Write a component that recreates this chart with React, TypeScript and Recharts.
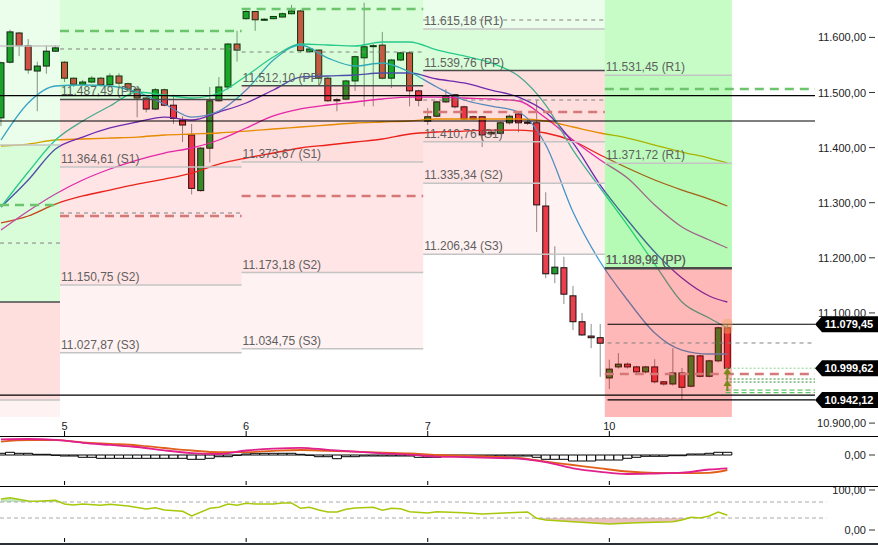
import React from 'react'
import {
  ComposedChart, Bar, Line, Area, XAxis, YAxis,
  ReferenceArea, ReferenceLine, ReferenceDot,
} from 'recharts'

const FONT = '"Liberation Sans", Arial, sans-serif'

// candle index axis: 20 half-hour bars per session
const X_DOMAIN: [number, number] = [-0.11, 89.65]
const PRICE_DOMAIN: [number, number] = [10876.6, 11667.9]
const TOP = 11667.9
const ZONE_BOTTOM = 10911

const DAY_TICKS = [7, 27, 47, 67]
const DAY_LABELS = ['5', '6', '7', '10']
// 11.000,00 sits under the last-price tag in the original, so it is left out
const PRICE_TICKS = [10900, 11100, 11200, 11300, 11400, 11500, 11600]

const OPEN = [
  11454, 11555, 11608, 11585, 11539, 11548, 11575,
  11555, 11526, 11515, 11519, 11526, 11514, 11530, 11516, 11506, 11490,
  11470, 11505, 11477, 11450, 11423, 11322, 11399, 11485, 11510, 11588,
  11634, 11647, 11632, 11634, 11637, 11643, 11648, 11574, 11577, 11526,
  11485, 11488, 11521, 11563, 11584, 11586, 11526, 11559, 11572, 11503,
  11448, 11457, 11483, 11496, 11474, 11456, 11456, 11425, 11426, 11445,
  11461, 11445, 11445, 11294, 11171, 11182, 11131, 11084, 11058, 11055,
  10982, 11002, 11007, 11002, 10993, 11002, 10975, 10971, 10991, 10967,
  11022, 10985, 11013, 11073,
]
const HIGH = [
  11556, 11614, 11610, 11597, 11556, 11586, 11586,
  11557, 11527, 11523, 11530, 11528, 11535, 11535, 11518, 11512, 11492,
  11508, 11507, 11496, 11457, 11443, 11401, 11510, 11528, 11590, 11612,
  11652, 11648, 11635, 11639, 11645, 11659, 11650, 11581, 11578, 11528,
  11490, 11523, 11567, 11663, 11588, 11610, 11561, 11574, 11575, 11505,
  11472, 11485, 11506, 11497, 11476, 11458, 11457, 11431, 11447, 11460,
  11463, 11454, 11486, 11319, 11221, 11202, 11149, 11100, 11080, 11080,
  11015, 11027, 11010, 11004, 11004, 11016, 10976, 11036, 11000, 11024,
  11024, 11015, 11075, 11079.45,
]
const LOW = [
  11439, 11553, 11566, 11534, 11466, 11534, 11574,
  11519, 11510, 11513, 11517, 11511, 11512, 11512, 11501, 11455, 11464,
  11468, 11475, 11443, 11410, 11315, 11320, 11373, 11483, 11505, 11556,
  11632, 11612, 11630, 11633, 11636, 11642, 11573, 11572, 11514, 11483,
  11466, 11486, 11503, 11475, 11475, 11524, 11508, 11557, 11475, 11475,
  11441, 11455, 11481, 11471, 11450, 11450, 11401, 11422, 11424, 11442,
  11428, 11441, 11247, 11163, 11154, 11116, 11069, 11058, 11036, 10984,
  10962, 10999, 10999, 10990, 10990, 10972, 10968, 10968, 10942.12, 10965,
  10983, 10983, 11010, 10964,
]
const CLOSE = [
  11554, 11610, 11585, 11541, 11548, 11575, 11581,
  11526, 11515, 11519, 11526, 11514, 11530, 11517, 11506, 11490, 11470,
  11505, 11477, 11453, 11441, 11326, 11399, 11485, 11510, 11588, 11577,
  11647, 11632, 11633, 11638, 11643, 11648, 11576, 11579, 11526, 11485,
  11487, 11521, 11565, 11583, 11585, 11526, 11559, 11572, 11503, 11486,
  11456, 11483, 11494, 11474, 11452, 11452, 11423, 11428, 11445, 11457,
  11445, 11446, 11296, 11171, 11183, 11134, 11084, 11060, 11055, 11045,
  10998, 11007, 11002, 10993, 11002, 10975, 10971, 10991, 10965, 11022,
  10985, 11013, 11073, 10999.62,
]

// moving averages, read every third candle
const MA_X = [0, 3, 6, 9, 12, 15, 18, 21, 24, 27, 30, 33, 36, 39, 42, 45, 48, 51, 54, 57, 60, 63, 66, 69, 72, 75, 78, 80]
const MA_FAST = [11413.8, 11481, 11511.8, 11513.6, 11511.8, 11500.9, 11479.1, 11455.5, 11466.4, 11504.5, 11559, 11586.2, 11562.6, 11548.1, 11553.6, 11537.2, 11510, 11486.4, 11475.5, 11464.6, 11404.7, 11283.1, 11192.4, 11123.4, 11063.5, 11032.6, 11025.4, 11025.4]
const MA_TEAL = [11292.2, 11355.7, 11413.8, 11448.3, 11475.5, 11500.9, 11495.5, 11490, 11499.1, 11530, 11564.4, 11588, 11586.2, 11584.4, 11591.7, 11591.7, 11577.2, 11566.3, 11553.6, 11530, 11477.3, 11395.6, 11326.7, 11259.5, 11188.7, 11119.8, 11090.7, 11072.6]
const MA_PURPLE = [11292.2, 11341.2, 11397.5, 11419.2, 11435.6, 11446.5, 11455.5, 11450.1, 11464.6, 11481, 11504.5, 11528.1, 11530, 11531.8, 11535.4, 11535.4, 11524.5, 11517.3, 11504.5, 11491.8, 11464.6, 11408.4, 11332.1, 11268.6, 11210.5, 11163.3, 11130.7, 11119.8]
const MA_MAGENTA = [11250.4, 11284.9, 11315.8, 11341.2, 11361.2, 11377.5, 11390.2, 11399.3, 11413.8, 11435.6, 11457.4, 11470.1, 11477.3, 11482.8, 11488.2, 11491.8, 11491.8, 11490, 11488.2, 11484.6, 11453.7, 11413.8, 11377.5, 11344.8, 11295.8, 11255.9, 11232.3, 11217.8]
const MA_ORANGE = [11402.9, 11406.5, 11413.8, 11415.6, 11417.4, 11419.2, 11422.9, 11424.7, 11426.5, 11430.1, 11433.8, 11437.4, 11441, 11444.7, 11446.5, 11448.3, 11451.9, 11451.9, 11451.9, 11451.9, 11448.3, 11437.4, 11426.5, 11417.4, 11404.7, 11392, 11381.1, 11372.1]
const MA_RED = [11263.2, 11275.9, 11297.6, 11312.2, 11323, 11333.9, 11343, 11353.9, 11370.2, 11381.1, 11390.2, 11399.3, 11404.7, 11410.2, 11415.6, 11424.7, 11428.3, 11430.1, 11431.9, 11431.9, 11426.5, 11412, 11386.6, 11363, 11341.2, 11323, 11306.7, 11294]

// sessions (candle index bounds)
const SEG_START = [-0.11, 6.5, 26.5, 46.5, 66.5]
const SEG_END = [6.5, 26.5, 46.5, 66.5, 80.5]

// pivot levels per session
const PIVOTS: [number, number, string][] = [
  [0, 11584.4, 'R2'], [0, 11404.7, 'R1'], [0, 11119.8, 'PP'], [0, 10941.9, 'S1'],
  [1, 11487.49, 'PP'], [1, 11364.61, 'S1'], [1, 11150.75, 'S2'], [1, 11027.87, 'S3'],
  [2, 11512.10, 'PP'], [2, 11373.67, 'S1'], [2, 11173.18, 'S2'], [2, 11034.75, 'S3'],
  [3, 11615.18, 'R1'], [3, 11539.76, 'PP'], [3, 11410.76, 'S1'], [3, 11335.34, 'S2'], [3, 11206.34, 'S3'],
  [4, 11531.45, 'R1'], [4, 11371.72, 'R1'], [4, 11180.99, 'PP'],
]
const ZONES: [number, number, number, string][] = [
  [0, ZONE_BOTTOM, 10941.9, 'p3'], [0, 10941.9, 11119.8, 'p1'], [0, 11119.8, 11404.7, 'g1'], [0, 11404.7, TOP, 'g2'],
  [1, 11487.49, TOP, 'g1'], [1, 11364.61, 11487.49, 'p1'], [1, 11150.75, 11364.61, 'p2'], [1, 11027.87, 11150.75, 'p3'],
  [2, 11512.10, TOP, 'g1'], [2, 11373.67, 11512.10, 'p1'], [2, 11173.18, 11373.67, 'p2'], [2, 11034.75, 11173.18, 'p3'],
  [3, 11615.18, TOP, 'g2'], [3, 11539.76, 11615.18, 'g1'], [3, 11410.76, 11539.76, 'p1'], [3, 11335.34, 11410.76, 'p2'], [3, 11206.34, 11335.34, 'p3'],
  [4, 11531.45, TOP, 'G3'], [4, 11371.72, 11531.45, 'G2'], [4, 11180.99, 11371.72, 'G1'], [4, ZONE_BOTTOM, 11180.99, 'P1'],
]
const BAND: Record<string, [string, number]> = {
  g1: ['#00f000', 0.15], g2: ['#00f000', 0.08],
  p1: ['#ff0000', 0.13], p2: ['#ff0000', 0.1], p3: ['#ff0000', 0.05],
  G1: ['#00f000', 0.29], G2: ['#00f000', 0.26], G3: ['#00f000', 0.22],
  P1: ['#ff0000', 0.28],
}

// previous-session markers: [from, to, price, kind]
const MARKS: [number, number, number, string][] = [
  [-0.11, 6.5, 11295.8, 'g'], [-0.11, 6.5, 11226.8, 'k'],
  [6.5, 26.5, 11611.6, 'g'], [6.5, 26.5, 11579, 'k'], [6.5, 26.5, 11281.3, 'k'], [6.5, 26.5, 11275.9, 'r'],
  [26.5, 46.5, 11651.6, 'g'], [26.5, 46.5, 11573.5, 'k'], [26.5, 46.5, 11312.2, 'r'],
  [46.5, 66.5, 11631.6, 'k'], [46.5, 66.5, 11486.4, 'k'], [46.5, 66.5, 11464.6, 'r'],
  [66.5, 89.65, 11506.4, 'g'], [66.8, 89.65, 11045.4, 'k'], [66.5, 89.65, 10989.1, 'r'],
  [79.8, 89.65, 10980, 'd'], [79.8, 89.65, 10974.6, 'd'], [79.8, 89.65, 10960, 'e'], [79.8, 89.65, 10955.2, 'e'],
]
const MARK_STYLE: Record<string, [string, number, string]> = {
  g: ['#6cc46c', 2.5, '9 6'],
  r: ['#d67878', 2.5, '9 6'],
  k: ['#808080', 1, '4 4'],
  d: ['#2f8a2f', 1, '2 2'],
  e: ['#3cb43c', 1, '5 3'],
}
const H_LINES = [11494.2, 11448.3, 10950.9]
const TAGS = [11079.45, 10942.12]
const LAST_PRICE = 10999.62
const SIGNALS = [10990.9, 10969.1]

// MACD
const HIST = [
  1.7, 2.7, 1.7, 1.7, 0.7, 0.7, -0.3, -1, -1, -2.3, -2.3,
  -3.3, -3.3, -3.3, -3.3, -3.3, -3.3, -3.3, -3.3, -3.3, -3.3,
  -4.3, -4.3, -3.3, -1.7, -1.7, -0.3,
  1, 1.7, 1.7, 1.7, 1.7, 1.7, 0.7, -0.3,
  -1.7, -1.7, -3.7, -1.7, -1.7,
  -1, -1, -1, -1, -1, -1, -2.3, -2.3, -2.3,
  -1, -1, -1, -1, -1, -1, -1, -1, -1, -1,
  -2.3, -4.3, -4.3, -4.3, -6, -6, -6, -5, -5, -5,
  -3.3, -2.3, -1.3, -1.3, -1.3, -0.7, -0.7, 1, 1, 1.7, 2.7, 2.7,
]
const MACD_LINE = [15.7, 16, 15.2, 12.2, 10.1, 8, 4.6, 1.9, 1, 4.5, 6.4, 7.2, 5.2, 3.4, 1.7, 0.4, -1.6, -2.1, -2.8, -3.6, -7.2, -13.3, -16.8, -19, -18.5, -17.7, -14.5, -13.3]
const MACD_SIGNAL = [13.3, 14.8, 14.8, 12.7, 11.2, 9.7, 7, 4.5, 2.8, 2.8, 4.2, 5, 4.2, 3.3, 2.4, 1.6, 0, -0.7, -1.7, -3, -6.6, -10, -13.4, -16.5, -18, -18.2, -17.8, -15]

// RSI
const RSI_X = [0, 1, 3, 4, 6, 7, 8, 9, 11, 12, 14, 16, 17, 18, 20, 21, 23, 24, 25, 26, 27, 28, 30, 31, 32, 33, 34, 35, 36, 37, 38, 39, 41, 42, 43, 44, 45, 47, 48, 51, 53, 56, 58, 59, 60, 63, 67, 70, 72, 74, 75, 76, 77, 78, 79, 80]
const RSI_V = [77.5, 80.8, 72.5, 71.8, 74.3, 65, 62.5, 65, 61.8, 64.3, 60, 52.5, 55.8, 50, 46.8, 35, 54.3, 56.8, 65, 61.8, 66.8, 65, 65, 67.5, 67.5, 54.3, 56.8, 50, 45, 45, 51.8, 55, 56.8, 49.3, 54.3, 53.3, 45.8, 42.5, 45.8, 43.3, 40, 43.3, 45, 29.3, 25, 20.8, 15, 18.3, 19.3, 20.8, 25, 31.8, 30, 35, 45, 36.8]

const candles = OPEN.map((o, i) => ({ i, o, h: HIGH[i], l: LOW[i], c: CLOSE[i], range: [LOW[i], HIGH[i]] }))
const maRows = MA_X.map((i, k) => ({
  i, fast: MA_FAST[k], teal: MA_TEAL[k], purple: MA_PURPLE[k],
  magenta: MA_MAGENTA[k], orange: MA_ORANGE[k], red: MA_RED[k],
}))
const histRows = HIST.map((h, i) => ({ i, h }))
const macdRows = MA_X.map((i, k) => ({ i, m: MACD_LINE[k], s: MACD_SIGNAL[k] }))
const rsiRows = RSI_X.map((i, k) => ({
  i, v: RSI_V[k],
  lo: [Math.min(RSI_V[k], 30), 30],
  hi: [70, Math.max(RSI_V[k], 70)],
}))

const MA_SERIES = [
  { key: 'red', color: '#e8261e' },
  { key: 'orange', color: '#e2a000' },
  { key: 'magenta', color: '#e02cc0' },
  { key: 'purple', color: '#5a32c8' },
  { key: 'teal', color: '#2ec4a4' },
  { key: 'fast', color: '#3c9fd6' },
]

function fmt(v: number) {
  const [a, b] = v.toFixed(2).split('.')
  return a.replace(/\B(?=(\d{3})+(?!\d))/g, '.') + ',' + b
}

function Candle(props: any) {
  const { x, y, width, height, payload } = props
  if (!payload) return null
  const { o, h, l, c } = payload
  const top0 = Math.min(y, y + height)
  const hh = Math.abs(height)
  const k = hh / (h - l)
  const bTop = top0 + (h - Math.max(o, c)) * k
  const bBot = top0 + (h - Math.min(o, c)) * k
  const cx = x + width / 2
  const up = c >= o
  return (
    <g>
      <line x1={cx} x2={cx} y1={top0} y2={top0 + hh} stroke="#8c8c8c" strokeWidth={1} />
      <rect x={x + 0.5} y={bTop} width={width - 1} height={Math.max(1, bBot - bTop)}
        fill={up ? '#1d9b2d' : '#e8404c'} stroke="#111" strokeWidth={1} />
    </g>
  )
}

function DayTick({ x, y, payload }: any) {
  const label = DAY_LABELS[DAY_TICKS.indexOf(payload.value)]
  return (
    <g>
      <line x1={x} x2={x} y1={y - 5} y2={y} stroke="#000" />
      <text x={x} y={y - 6} textAnchor="middle" fontSize={11} fill="#222" fontFamily={FONT}>{label}</text>
    </g>
  )
}

function SubTick({ x, y }: any) {
  return <line x1={x} x2={x} y1={y - 4} y2={y} stroke="#000" />
}

function PriceTick({ y, payload }: any) {
  return (
    <g>
      <text x={866} y={y + 4} textAnchor="end" fontSize={11} fill="#222" fontFamily={FONT}>{fmt(payload.value)}</text>
      <line x1={869} x2={875} y1={y} y2={y} stroke="#333" />
    </g>
  )
}

const pivotLabel = (text: string) => (props: any) => {
  const vb = props.viewBox
  if (!vb) return null
  return (
    <text x={vb.x + 1} y={vb.y - 4} fontSize={12} fill="#5f5f5f" fontFamily={FONT}>{text}</text>
  )
}

const tagLabel = (value: number) => (props: any) => {
  const vb = props.viewBox
  if (!vb) return null
  const xe = vb.x + vb.width
  const yc = vb.y
  return (
    <g>
      <path d={`M${xe},${yc} L${xe + 7},${yc - 8} L878,${yc - 8} L878,${yc + 8} L${xe + 7},${yc + 8} Z`} fill="#000" />
      <text x={849} y={yc + 4} textAnchor="middle" fill="#fff" fontSize={11} fontWeight="bold" fontFamily={FONT}>{fmt(value)}</text>
    </g>
  )
}

const margin = { top: 0, right: 0, bottom: 0, left: 0 }

function MainChart() {
  return (
    <ComposedChart width={878} height={437} data={candles} margin={margin}>
      <XAxis dataKey="i" type="number" domain={X_DOMAIN} allowDataOverflow ticks={DAY_TICKS} interval={0}
        height={1} axisLine={false} tickLine={false} tickSize={0} tickMargin={0} tick={<DayTick />} />
      <YAxis orientation="right" width={63} domain={PRICE_DOMAIN} allowDataOverflow ticks={PRICE_TICKS} interval={0}
        axisLine={false} tickLine={false} tick={<PriceTick />} />
      <Bar dataKey="range" barSize={7} shape={(p: any) => <Candle {...p} />} isAnimationActive={false} />
      {MA_SERIES.map(s => (
        <Line key={s.key} data={maRows} dataKey={s.key} type="monotone" stroke={s.color} strokeWidth={1.3}
          dot={false} activeDot={false} isAnimationActive={false} />
      ))}
      {ZONES.map(([seg, lo, hi, band], k) => (
        <ReferenceArea key={'z' + k} x1={SEG_START[seg]} x2={SEG_END[seg]} y1={lo} y2={hi}
          fill={BAND[band][0]} fillOpacity={BAND[band][1]} stroke="none" ifOverflow="hidden" zIndex={450} />
      ))}
      {PIVOTS.map(([seg, v, name], k) => (
        <ReferenceLine key={'p' + k}
          segment={[{ x: SEG_START[seg], y: v }, { x: SEG_END[seg], y: v }]}
          stroke={name === 'PP' ? '#4a4a4a' : '#c4c4c4'}
          strokeWidth={name === 'PP' && seg === 4 ? 2.5 : 1.5}
          label={seg > 0 ? pivotLabel(`${fmt(v)} (${name})`) : undefined}
          zIndex={500} />
      ))}
      <ReferenceLine segment={[{ x: SEG_START[4], y: 11180.99 }, { x: SEG_END[4], y: 11180.99 }]}
        stroke="none" label={pivotLabel(`${fmt(11183.92)} (PP)`)} zIndex={500} />
      {MARKS.map(([a, b, v, kind], k) => (
        <ReferenceLine key={'m' + k} segment={[{ x: a, y: v }, { x: b, y: v }]}
          stroke={MARK_STYLE[kind][0]} strokeWidth={MARK_STYLE[kind][1]} strokeDasharray={MARK_STYLE[kind][2]}
          zIndex={500} />
      ))}
      {H_LINES.map(v => (
        <ReferenceLine key={'h' + v} y={v} stroke="#000" strokeWidth={1.2} zIndex={500} />
      ))}
      {TAGS.map(v => (
        <ReferenceLine key={'t' + v} segment={[{ x: 66.8, y: v }, { x: 89.65, y: v }]}
          stroke="#000" strokeWidth={1.2} label={tagLabel(v)} zIndex={500} />
      ))}
      <ReferenceLine segment={[{ x: 79.8, y: LAST_PRICE }, { x: 89.65, y: LAST_PRICE }]}
        stroke="#8fd48f" strokeDasharray="2 2" label={tagLabel(LAST_PRICE)} zIndex={500} />
      <ReferenceDot x={80} y={11075} zIndex={600}
        shape={(p: any) => <rect x={p.cx - 5} y={p.cy - 8} width={10} height={15} rx={4} fill="#f0a860" fillOpacity={0.45} />} />
      {SIGNALS.map(v => (
        <ReferenceDot key={'s' + v} x={80} y={v} zIndex={600}
          shape={(p: any) => (
            <g>
              <path d={`M${p.cx},${p.cy - 5} L${p.cx + 4},${p.cy + 1} L${p.cx - 4},${p.cy + 1} Z`} fill="#7a8a1a" />
              <line x1={p.cx} x2={p.cx} y1={p.cy} y2={p.cy + 6} stroke="#7a8a1a" strokeWidth={2} />
            </g>
          )} />
      ))}
    </ComposedChart>
  )
}

function MacdChart() {
  return (
    <ComposedChart width={878} height={49} data={histRows} margin={margin}>
      <XAxis dataKey="i" type="number" domain={X_DOMAIN} allowDataOverflow ticks={DAY_TICKS} interval={0}
        height={1} axisLine={false} tickLine={false} tickSize={0} tickMargin={0} tick={<SubTick />} />
      <YAxis orientation="right" width={63} domain={[-30, 18]} allowDataOverflow ticks={[0]} interval={0}
        axisLine={false} tickLine={false} tick={<PriceTick />} />
      <Bar dataKey="h" barSize={9} fill="#fff" stroke="#000" strokeWidth={1} isAnimationActive={false} />
      <Line data={macdRows} dataKey="s" type="monotone" stroke="#e0601a" strokeWidth={1.8} dot={false} isAnimationActive={false} />
      <Line data={macdRows} dataKey="m" type="monotone" stroke="#e0208e" strokeWidth={1.8} dot={false} isAnimationActive={false} />
    </ComposedChart>
  )
}

function RsiTick({ y, payload }: any) {
  return (
    <g>
      <text x={866} y={y + 4} textAnchor="end" fontSize={11} fill="#222" fontFamily={FONT}>{fmt(payload.value)}</text>
      <line x1={869} x2={875} y1={y} y2={y} stroke="#333" />
    </g>
  )
}

function RsiChart() {
  return (
    <ComposedChart width={878} height={56} data={rsiRows} margin={margin}>
      <XAxis dataKey="i" type="number" domain={X_DOMAIN} allowDataOverflow ticks={DAY_TICKS} interval={0}
        height={1} axisLine={false} tickLine={false} tickSize={0} tickMargin={0} tick={<SubTick />} />
      <YAxis orientation="right" width={63} domain={[-30, 107.5]} allowDataOverflow ticks={[0, 100]} interval={0}
        axisLine={false} tickLine={false} tick={<RsiTick />} />
      {[70, 30].map(v => (
        <ReferenceLine key={v} segment={[{ x: -0.11, y: v }, { x: 90.9, y: v }]} ifOverflow="visible"
          stroke="#a8a8a8" strokeDasharray="4 3" />
      ))}
      <Area dataKey="lo" type="linear" fill="#eac0c0" fillOpacity={1} stroke="none" isAnimationActive={false} />
      <Area dataKey="hi" type="linear" fill="#bfe6bf" fillOpacity={1} stroke="none" isAnimationActive={false} />
      <Line dataKey="v" type="linear" stroke="#a6c80a" strokeWidth={1.5} dot={false} isAnimationActive={false} />
    </ComposedChart>
  )
}

export default function App() {
  return (
    <div style={{ position: 'absolute', left: 0, top: 0, width: 878, height: 545, background: '#fff', overflow: 'hidden', fontFamily: FONT }}>
      <div style={{ position: 'absolute', left: 0, top: 0 }}><MainChart /></div>
      <div style={{ position: 'absolute', left: 0, top: 436, width: 878, height: 1, background: '#000' }} />
      <div style={{ position: 'absolute', left: 0, top: 437 }}><MacdChart /></div>
      <div style={{ position: 'absolute', left: 0, top: 486, width: 878, height: 1, background: '#000' }} />
      <div style={{ position: 'absolute', left: 0, top: 487 }}><RsiChart /></div>
      <div style={{ position: 'absolute', left: 0, top: 543, width: 878, height: 2, background: '#2b2f36' }} />
    </div>
  )
}
